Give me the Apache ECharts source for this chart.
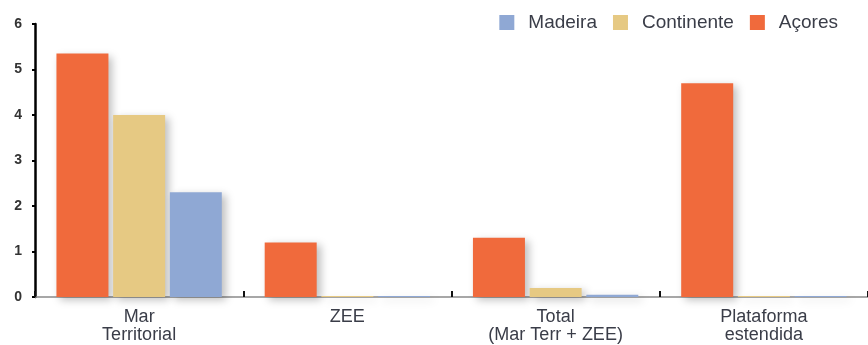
<!DOCTYPE html>
<html>
<head>
<meta charset="utf-8">
<script src="https://cdn.jsdelivr.net/npm/echarts@6/dist/echarts.min.js"></script>
<style>html,body{margin:0;padding:0;background:#fff}#c{width:868px;height:345px}</style>
</head>
<body>
<div id="c"></div>
<script>
const categories = ["Mar\nTerritorial", "ZEE", "Total\n(Mar Terr + ZEE)", "Plataforma\nestendida"];
const acores = [5.35, 1.2, 1.3, 4.7];
const continente = [4.0, 0.02, 0.2, 0.02];
const madeira = [2.3, 0.02, 0.05, 0.02];
const yTicks = [0, 1, 2, 3, 4, 5, 6];

const shadow = {shadowColor: 'rgba(0,0,0,0.25)', shadowBlur: 8, shadowOffsetX: 4, shadowOffsetY: 3};
const chart = echarts.init(document.getElementById('c'));
chart.setOption({
  animation: false,
  grid: {left: 35, width: 838, top: 24, bottom: 48, containLabel: false},
  legend: {
    data: ['Madeira', 'Continente', 'Açores'],
    right: 25, top: 8,
    itemWidth: 15, itemHeight: 15, itemGap: 16,
    icon: 'rect',
    textStyle: {fontSize: 19, color: '#3a3d48', fontFamily: 'Liberation Sans, Arial', padding: [0, 0, 0, 9]}
  },
  xAxis: {
    type: 'category',
    data: categories,
    axisLine: {lineStyle: {color: '#8a8a8a', width: 1.5}},
    axisTick: {show: true, inside: true, length: 6, lineStyle: {color: '#111', width: 2}},
    axisLabel: {fontSize: 18, lineHeight: 18, color: '#3a3d48', fontFamily: 'Liberation Sans, Arial', margin: 11}
  },
  yAxis: {
    type: 'value',
    min: yTicks[0], max: yTicks[yTicks.length - 1], interval: 1,
    splitLine: {show: false},
    axisLine: {show: true, lineStyle: {color: '#000', width: 2.5}},
    axisTick: {show: true, length: 3, lineStyle: {color: '#000', width: 2}},
    axisLabel: {fontSize: 14, fontWeight: 'bold', color: '#333', fontFamily: 'Liberation Sans, Arial', margin: 13}
  },
  series: [
    {name: 'Açores', type: 'bar', data: acores, barWidth: 52, barGap: '9%', itemStyle: Object.assign({color: '#F06A3C'}, shadow)},
    {name: 'Continente', type: 'bar', data: continente, barWidth: 52, barGap: '9%', itemStyle: Object.assign({color: '#E6C983'}, shadow)},
    {name: 'Madeira', type: 'bar', data: madeira, barWidth: 52, barGap: '9%', itemStyle: Object.assign({color: '#8FA8D4'}, shadow)}
  ]
});
</script>
</body>
</html>
